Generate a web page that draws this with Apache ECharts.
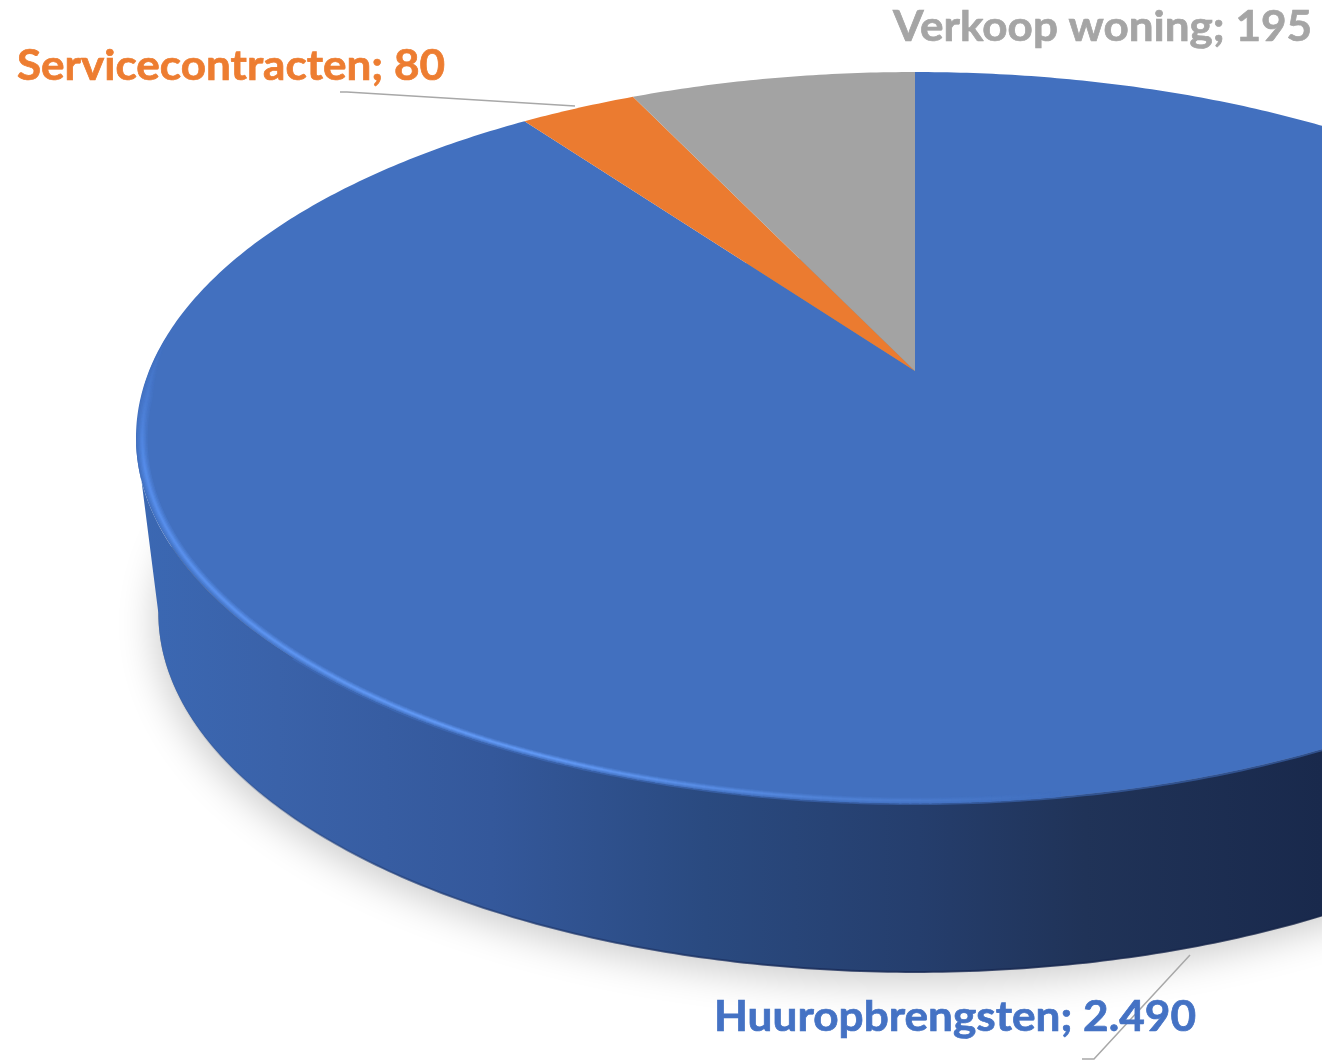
<!DOCTYPE html>
<html><head><meta charset="utf-8">
<style>html,body{margin:0;padding:0;background:#fff}#c{width:1322px;height:1061px}</style>
<script src="https://cdn.jsdelivr.net/npm/echarts@6/dist/echarts.min.js"></script>
</head><body><div id="c"></div>
<script>
const categories = ['Huuropbrengsten', 'Servicecontracten', 'Verkoop woning'];
const values = [2490, 80, 195];
const valueLabels = ['2.490', '80', '195'];
const colors = ['#4270BF', '#EB7B30', '#A3A3A3'];
const labelColors = ['#4472C4', '#ED7D31', '#A5A5A5'];

// projected discs: apex position, radial scales and perspective factor
const TOP = {cx: 915, cy: 371, a: 353.4, b: 766, k: 0.182};
const BOT = {cx: 915, cy: 547.7, a: 347, b: 744, k: 0.182};
const FRONT = [Math.PI - Math.acos(TOP.k), Math.PI + Math.acos(TOP.k)];
const labelBox = [
  {x: 714, y: 1038, w: 482},
  {x: 17, y: 87, w: 428},
  {x: 893, y: 48, w: 419}
];
const leaders = [
  [[1190, 955], [1094, 1059], [1082, 1059]],
  [[340, 92], [347, 92], [575, 106]],
  null
];
const FONT = 'bold 42px Lato';
const ctx = document.createElement('canvas').getContext('2d');

function pt(d, phi, r) {
  r = r === undefined ? 1 : r;
  const u = r * Math.sin(phi), v = r * Math.cos(phi), w = 1 + d.k * v;
  return [d.cx + d.b * u / w, d.cy - d.a * v / w];
}
function arc(d, a0, a1, r) {
  const n = Math.max(2, Math.ceil(Math.abs(a1 - a0) / 0.01)), out = [];
  for (let i = 0; i <= n; i++) out.push(pt(d, a0 + (a1 - a0) * i / n, r));
  return out;
}
function mix(c1, c2, t) {
  const p = c => [1, 3, 5].map(i => parseInt(c.substr(i, 2), 16));
  const a = p(c1), b = p(c2);
  return '#' + a.map((x, i) => Math.round(x + (b[i] - x) * t).toString(16).padStart(2, '0')).join('');
}
const total = values.reduce((s, v) => s + v, 0);

function renderItem(params, api) {
  const i = params.dataIndex;
  const start = values.slice(0, i).reduce((s, v) => s + v, 0) / total * 2 * Math.PI;
  const end = start + api.value(0) / total * 2 * Math.PI;
  const kids = [];

  const f0 = Math.max(start, FRONT[0]), f1 = Math.min(end, FRONT[1]);
  if (f1 > f0) {
    const botArc = arc(BOT, f0, f1);
    const wall = arc(TOP, f0, f1).concat(botArc.slice().reverse());
    kids.push({type: 'polygon', z2: 0, shape: {points: arc(BOT, 0, 2 * Math.PI)},
      style: {fill: '#888', shadowBlur: 38, shadowOffsetY: 11, shadowOffsetX: -3, shadowColor: 'rgba(0,0,0,0.2)'}});
    kids.push({type: 'polygon', z2: 1, shape: {points: wall},
      style: {fill: new echarts.graphic.LinearGradient(136, 0, 1322, 0, [
        {offset: 0, color: '#3B68B3'}, {offset: 0.12, color: '#3A62A9'}, {offset: 0.3, color: '#34589B'},
        {offset: 0.48, color: '#2A4A80'}, {offset: 0.66, color: '#253E6D'},
        {offset: 0.8, color: '#203358'}, {offset: 1, color: '#19294C'}], true)}});
    kids.push({type: 'polyline', z2: 2, shape: {points: botArc},
      style: {fill: null, lineWidth: 2, stroke: new echarts.graphic.LinearGradient(150, 0, 1322, 0, [
        {offset: 0, color: 'rgba(40,75,140,0)'}, {offset: 0.2, color: 'rgba(35,65,125,0.7)'},
        {offset: 0.6, color: 'rgba(22,40,85,0.8)'}, {offset: 1, color: 'rgba(20,35,70,0.8)'}], true)}});
  }

  kids.push({type: 'polygon', z2: 3,
    shape: {points: [pt(TOP, 0, 0)].concat(arc(TOP, start, end))},
    style: {fill: colors[i]}});

  if (f1 > f0) {
    // soft top edge over the wall, front-centre and right only
    kids.push({type: 'polyline', z2: 2, shape: {points: arc(TOP, f0, Math.PI * 1.25)},
      style: {fill: null, stroke: colors[i], lineWidth: 4, opacity: 0.55}});
    // bevel highlight along the lower-left rim
    const a0 = Math.PI * 0.95, a1 = Math.min(end, Math.PI * 1.53), n = 170;
    [[1, 0.25], [0.72, 0.5], [0.44, 0.78], [0.2, 1]].forEach(function (layer) {
      for (let s = 0; s < n; s++) {
        const p0 = a0 + (a1 - a0) * s / n, p1 = a0 + (a1 - a0) * (s + 1.25) / n;
        const t = s / n;
        const strength = Math.min(1, t / 0.3) * Math.min(1, (1 - t) / 0.2);
        const w = (6 + 6 * Math.max(0, t - 0.35) / 0.65) * Math.min(1, (1 - t) / 0.1 + 0.05);
        const r = 1 - (w * 0.5 + 0.8) / 780;
        const glow = mix('#6198F3', '#4F85E2', Math.max(0, t - 0.4) / 0.6);
        kids.push({type: 'polyline', z2: 4, silent: true, shape: {points: [pt(TOP, p0, r), pt(TOP, p1, r)]},
          style: {fill: null, stroke: mix(colors[i], glow, strength * layer[1]), lineWidth: w * layer[0]}});
      }
    });
  }

  if (leaders[i]) {
    kids.push({type: 'polyline', z2: 6, shape: {points: leaders[i]},
      style: {fill: null, stroke: '#A8A8A8', lineWidth: 1.5}});
  }

  const text = api.value(1) + '; ' + valueLabels[i];
  ctx.font = FONT;
  const box = labelBox[i];
  kids.push({type: 'text', z2: 7, x: box.x, y: box.y, scaleX: box.w / ctx.measureText(text).width,
    style: {text: text, font: FONT, fill: labelColors[i], stroke: labelColors[i], lineWidth: 0.7,
      align: 'left', verticalAlign: 'bottom', x: 0, y: 0}});
  return {type: 'group', children: kids};
}

const chart = echarts.init(document.getElementById('c'), null, {renderer: 'canvas'});
chart.setOption({
  animation: false,
  backgroundColor: '#fff',
  series: [{
    type: 'custom',
    coordinateSystem: 'none',
    clip: false,
    renderItem: renderItem,
    encode: {value: 0},
    data: values.map((v, i) => [v, categories[i]]),
    dimensions: [{name: 'value', type: 'number'}, {name: 'category', type: 'ordinal'}]
  }]
});
</script></body></html>
